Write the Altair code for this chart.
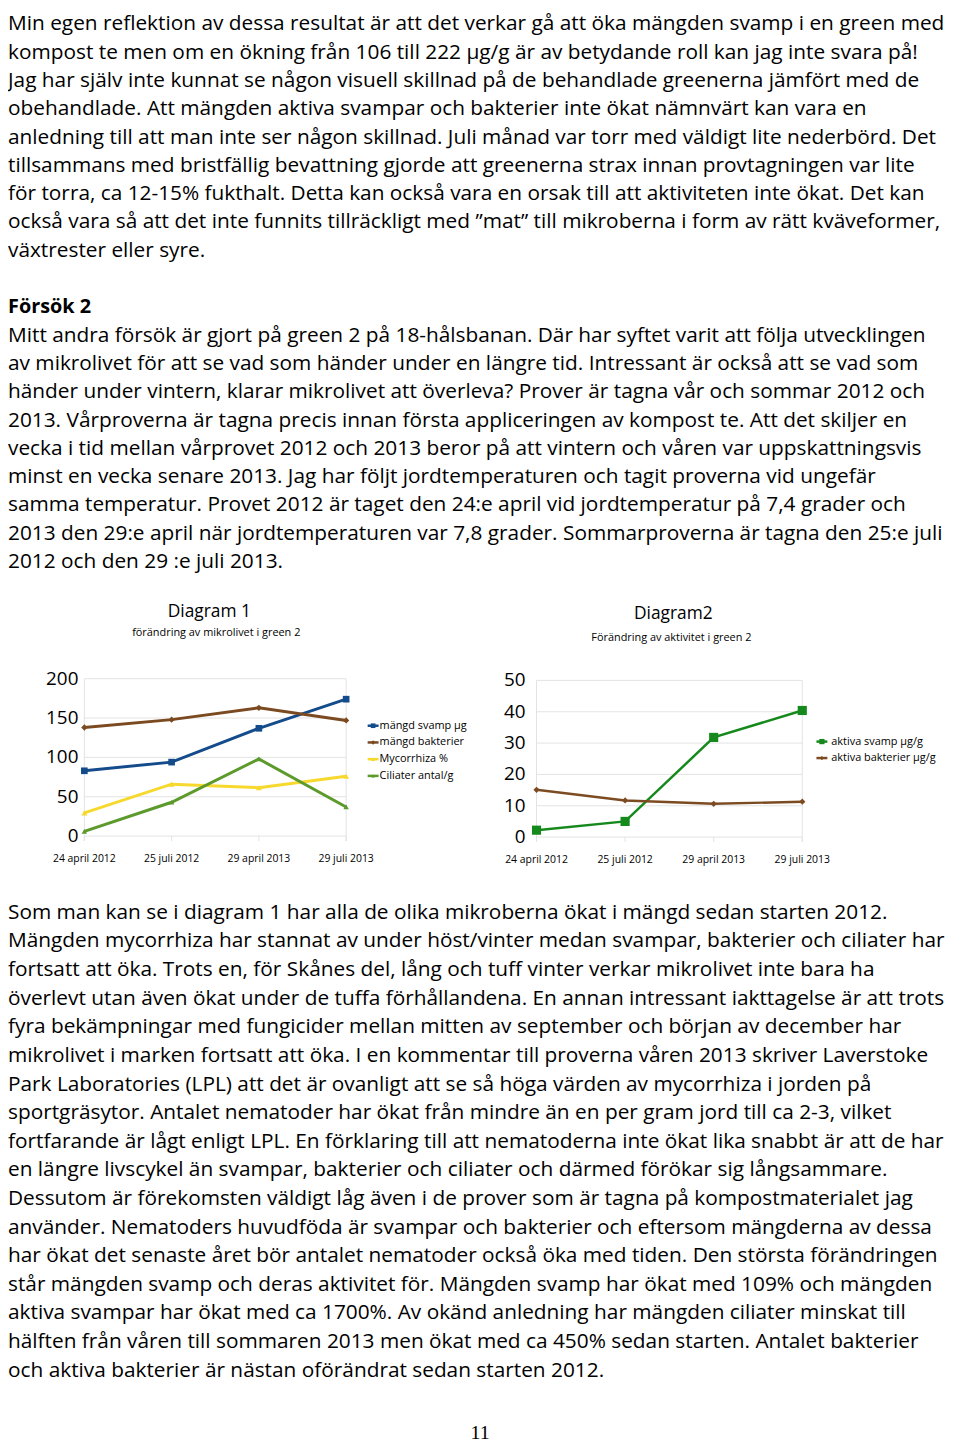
import altair as alt
import pandas as pd

FONT = "Open Sans"
GRID = "#e3e3e3"

# ---------------- data ----------------
dates = ["24 april 2012", "25 juli 2012", "29 april 2013", "29 juli 2013"]

d1_title = "Diagram 1"
d1_subtitle = "förändring av mikrolivet i green 2"
d1_series = ["mängd svamp µg", "mängd bakterier", "Mycorrhiza %", "Ciliater antal/g"]
d1_svamp = [83, 94, 137, 174]
d1_bakterier = [138, 148, 163, 147]
d1_mycorrhiza = [29.5, 66, 61.5, 76]
d1_ciliater = [6, 43, 98, 37]
d1_colors = ["#134b8b", "#7b4a20", "#f7d82c", "#5c9a2c"]
d1_shapes = ["square", "diamond", "triangle-up", "triangle-up"]
d1_ticks = [0, 50, 100, 150, 200]

d2_title = "Diagram2"
d2_subtitle = "Förändring av aktivitet i green 2"
d2_series = ["aktiva svamp µg/g", "aktiva bakterier µg/g"]
d2_svamp = [2.2, 5, 31.8, 40.4]
d2_bakterier = [15.1, 11.7, 10.6, 11.3]
d2_colors = ["#15891b", "#7d4b22"]
d2_shapes = ["square", "diamond"]
d2_ticks = [0, 10, 20, 30, 40, 50]

para1 = [
    "Min egen reflektion av dessa resultat är att det verkar gå att öka mängden svamp i en green med",
    "kompost te men om en ökning från 106 till 222 µg/g är av betydande roll kan jag inte svara på!",
    "Jag har själv inte kunnat se någon visuell skillnad på de behandlade greenerna jämfört med de",
    "obehandlade. Att mängden aktiva svampar och bakterier inte ökat nämnvärt kan vara en",
    "anledning till att man inte ser någon skillnad. Juli månad var torr med väldigt lite nederbörd. Det",
    "tillsammans med bristfällig bevattning gjorde att greenerna strax innan  provtagningen var lite",
    "för torra, ca 12-15% fukthalt. Detta kan också vara en orsak till att aktiviteten inte ökat. Det kan",
    "också vara så att det inte funnits tillräckligt med ”mat” till mikroberna i form av rätt kväveformer,",
    "växtrester eller syre.",
]
heading = "Försök 2"
para2 = [
    "Mitt andra försök är gjort på green 2 på 18-hålsbanan. Där har syftet varit att följa utvecklingen",
    "av mikrolivet för att se vad som händer under en längre tid. Intressant är också att se vad som",
    "händer under vintern, klarar mikrolivet att överleva? Prover är tagna vår och sommar 2012 och",
    "2013. Vårproverna är tagna precis innan första appliceringen av kompost te. Att det skiljer en",
    "vecka i tid mellan vårprovet 2012 och 2013 beror på att vintern och våren var uppskattningsvis",
    "minst en vecka senare 2013. Jag har följt jordtemperaturen och tagit proverna vid ungefär",
    "samma temperatur. Provet 2012 är taget den 24:e april vid jordtemperatur på 7,4 grader och",
    "2013 den 29:e april när jordtemperaturen var 7,8 grader. Sommarproverna är tagna den 25:e juli",
    "2012 och den 29 :e juli 2013.",
]
para3 = [
    "Som man kan se i diagram 1 har alla de olika mikroberna ökat i mängd sedan starten 2012.",
    "Mängden mycorrhiza har stannat av under höst/vinter medan svampar, bakterier och ciliater har",
    "fortsatt att öka. Trots en, för Skånes del, lång och tuff vinter verkar mikrolivet inte bara ha",
    "överlevt utan även ökat under de tuffa förhållandena. En annan intressant iakttagelse är att trots",
    "fyra bekämpningar med fungicider mellan mitten av september och början av december har",
    "mikrolivet i marken fortsatt att öka. I en kommentar till proverna våren 2013 skriver Laverstoke",
    "Park Laboratories (LPL) att det är ovanligt att se så höga värden av mycorrhiza i jorden på",
    "sportgräsytor. Antalet nematoder har ökat från mindre än en per gram jord till ca 2-3, vilket",
    "fortfarande är lågt enligt LPL. En förklaring till att nematoderna inte ökat lika snabbt är att de har",
    "en längre livscykel än svampar, bakterier och ciliater och därmed förökar sig långsammare.",
    "Dessutom är förekomsten väldigt låg även i de prover som är tagna på kompostmaterialet jag",
    "använder. Nematoders huvudföda är svampar och bakterier och eftersom mängderna av dessa",
    "har ökat det senaste året bör antalet nematoder också öka med tiden. Den största förändringen",
    "står mängden svamp och deras aktivitet för. Mängden svamp har ökat med 109% och mängden",
    "aktiva svampar har ökat med ca 1700%. Av okänd anledning har mängden ciliater minskat till",
    "hälften från våren till sommaren 2013 men ökat med ca 450% sedan starten. Antalet bakterier",
    "och aktiva bakterier är nästan oförändrat sedan starten 2012.",
]
page_number = "11"

BODY_SIZE = 21


# ---------------- text blocks ----------------
def text_block(lines_with_kind, yrange):
    rows = [{"k": i, "text": t, "kind": kd} for i, (t, kd) in enumerate(lines_with_kind)]
    df = pd.DataFrame(rows)
    n = len(rows) - 1
    ys = alt.Scale(domain=[0, n], range=yrange, zero=False, nice=False)
    base = alt.Chart(df)
    body = base.transform_filter(alt.datum.kind == "body").mark_text(
        align="left", baseline="alphabetic", font=FONT, fontSize=BODY_SIZE, color="#000"
    ).encode(x=alt.value(0), y=alt.Y("k:Q", scale=ys, axis=None), text="text:N")
    head = base.transform_filter(alt.datum.kind == "head").mark_text(
        align="left", baseline="alphabetic", font=FONT, fontSize=20,
        fontWeight="bold", color="#000"
    ).encode(x=alt.value(0), y=alt.Y("k:Q", scale=ys, axis=None), text="text:N")
    return alt.layer(body, head)


top_lines = [(t, "body") for t in para1] + [("", "blank"), (heading, "head")] + [(t, "body") for t in para2]
top_text = text_block(top_lines, [16.5, 558.7])
bottom_text = text_block([(t, "body") for t in para3], [912.5, 1374.1])


# ---------------- chart panels ----------------
def panel(series, vals, colors, shapes, sizes, ticks, xr, yr, lw, ylab_dx, ylab_size):
    rows = []
    for s, vs in zip(series, vals):
        for i, (d, v) in enumerate(zip(dates, vs)):
            rows.append({"date": d, "series": s, "value": v, "i": i})
    df = pd.DataFrame(rows)
    xs = alt.Scale(type="point", domain=dates, range=xr, padding=0)
    ys = alt.Scale(domain=[ticks[0], ticks[-1]], range=yr, zero=False, nice=False)
    cs = alt.Scale(domain=series, range=colors)

    grid = alt.Chart(pd.DataFrame({"tick": ticks})).mark_rule(color=GRID, strokeWidth=1).encode(
        y=alt.Y("tick:Q", scale=ys, axis=None),
        x=alt.XDatum(dates[0], type="nominal", scale=xs, axis=None),
        x2=alt.X2Datum(dates[-1]),
    )
    edges = alt.Chart(pd.DataFrame({"date": [dates[0], dates[-1]]})).mark_rule(
        color=GRID, strokeWidth=1, y2Offset=5
    ).encode(
        x=alt.X("date:N", scale=xs, axis=None),
        y=alt.YDatum(ticks[-1], type="quantitative", scale=ys, axis=None),
        y2=alt.Y2Datum(ticks[0]),
    )
    xticks = alt.Chart(pd.DataFrame({"date": dates})).mark_rule(
        color=GRID, strokeWidth=1, y2Offset=5
    ).encode(
        x=alt.X("date:N", scale=xs, axis=None),
        y=alt.YDatum(ticks[0], type="quantitative", scale=ys, axis=None),
        y2=alt.Y2Datum(ticks[0]),
    )
    lines = alt.Chart(df).mark_line(strokeWidth=lw).encode(
        x=alt.X("date:N", scale=xs, axis=None),
        y=alt.Y("value:Q", scale=ys, axis=None),
        color=alt.Color("series:N", scale=cs, legend=None),
        order="i:Q",
    )
    pts = alt.Chart(df).mark_point(filled=True, opacity=1).encode(
        x=alt.X("date:N", scale=xs, axis=None),
        y=alt.Y("value:Q", scale=ys, axis=None),
        color=alt.Color("series:N", scale=cs, legend=None),
        shape=alt.Shape("series:N", scale=alt.Scale(domain=series, range=shapes), legend=None),
        size=alt.Size("series:O", scale=alt.Scale(domain=series, range=sizes), legend=None),
    )
    ylab = alt.Chart(pd.DataFrame({"tick": ticks})).mark_text(
        align="right", baseline="middle", dx=ylab_dx, font=FONT, fontSize=ylab_size, color="#000"
    ).encode(
        y=alt.Y("tick:Q", scale=ys, axis=None),
        x=alt.XDatum(dates[0], type="nominal", scale=xs, axis=None),
        text="tick:Q",
    )
    xlab = alt.Chart(pd.DataFrame({"date": dates})).mark_text(
        align="center", baseline="middle", dy=23, font=FONT, fontSize=10.5, color="#000"
    ).encode(
        x=alt.X("date:N", scale=xs, axis=None),
        y=alt.YDatum(ticks[0], type="quantitative", scale=ys, axis=None),
        text="date:N",
    )
    return alt.layer(grid, edges, xticks, lines, pts, ylab, xlab)


def legend(series, colors, shapes, sizes, yr, lx0, lx1, tx, lw):
    df = pd.DataFrame({"series": series})
    ly = alt.Y("series:N", scale=alt.Scale(type="point", domain=series, range=yr, padding=0), axis=None)
    lc = alt.Color("series:N", scale=alt.Scale(domain=series, range=colors), legend=None)
    seg = alt.Chart(df).mark_rule(strokeWidth=lw).encode(
        x=alt.value(lx0), x2=alt.value(lx1), y=ly, color=lc
    )
    pt = alt.Chart(df).mark_point(filled=True, opacity=1).encode(
        x=alt.value((lx0 + lx1) / 2), y=ly, color=lc,
        shape=alt.Shape("series:N", scale=alt.Scale(domain=series, range=shapes), legend=None),
        size=alt.Size("series:O", scale=alt.Scale(domain=series, range=sizes), legend=None),
    )
    txt = alt.Chart(df).mark_text(
        align="left", baseline="middle", font=FONT, fontSize=11, color="#000"
    ).encode(x=alt.value(tx), y=ly, text="series:N")
    return alt.layer(seg, pt, txt)


def label(text, x, y, size, font=FONT, weight="normal"):
    return alt.Chart(pd.DataFrame({"t": [text]})).mark_text(
        align="center", baseline="alphabetic", font=font, fontSize=size, fontWeight=weight, color="#000"
    ).encode(x=alt.value(x), y=alt.value(y), text="t:N")


panel1 = panel(d1_series, [d1_svamp, d1_bakterier, d1_mycorrhiza, d1_ciliater], d1_colors,
               d1_shapes, [45, 30, 25, 30], d1_ticks, [77, 341], [829, 670.3], 3, -6, 19)
panel2 = panel(d2_series, [d2_svamp, d2_bakterier], d2_colors, d2_shapes, [85, 40],
               d2_ticks, [533, 801], [830, 672], 2.5, -11, 19)
legend1 = legend(d1_series, d1_colors, d1_shapes, [22, 16, 14, 16], [717.7, 768.3], 362.7, 373.7, 374.7, 2.5)
legend2 = legend(d2_series, d2_colors, d2_shapes, [28, 18], [733.7, 750.3], 815.3, 826.3, 830.3, 2.5)

t1 = label(d1_title, 203, 608, 17.5)
s1 = label(d1_subtitle, 210, 627, 11)
t2 = label(d2_title, 671, 610, 17.5)
s2 = label(d2_subtitle, 669, 632, 11)
pn = label(page_number, 476, 1437, 20, font="Liberation Serif")

chart = alt.layer(
    top_text, panel1, legend1, panel2, legend2, t1, s1, t2, s2, bottom_text, pn
).resolve_scale(
    x="independent", y="independent", color="independent", shape="independent", size="independent"
).properties(
    width=952, height=1440, padding=0, autosize=alt.AutoSizeParams(type="none")
).configure_view(stroke=None)

chart.save("out.html", embed_options={"renderer": "svg", "actions": False})
